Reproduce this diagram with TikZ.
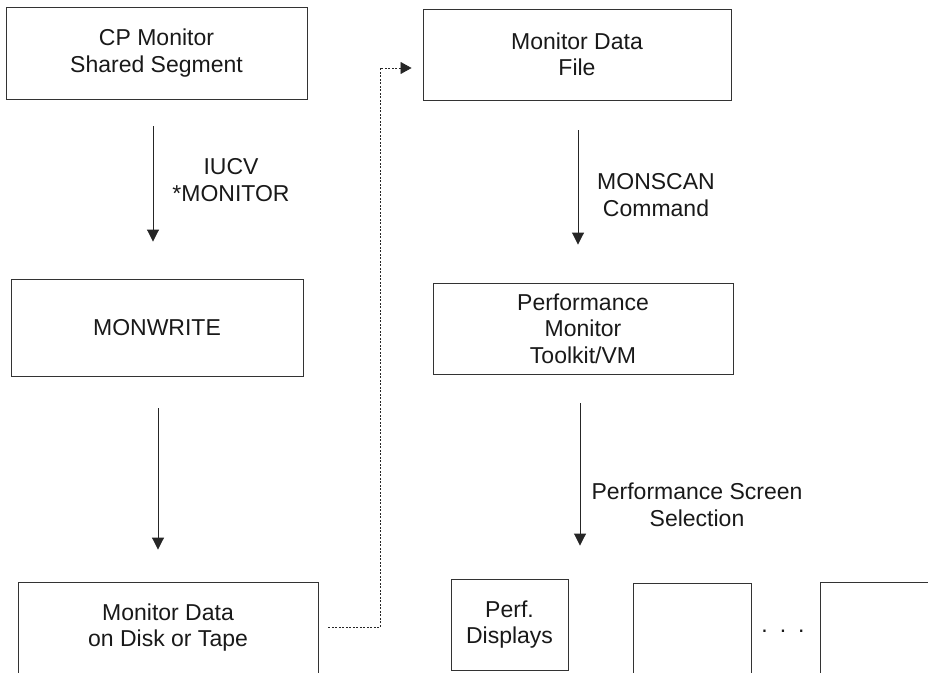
\documentclass[tikz,border=0pt]{standalone}
\usepackage{fontspec}
\setmainfont{Liberation Sans}
\usetikzlibrary{arrows.meta}
\begin{document}
\begin{tikzpicture}[x=1pt,y=-1pt,
  box/.style={draw=black!80, line width=0.9pt, align=center, inner sep=0pt,
    font=\fontsize{23}{26.5}\selectfont, text=black!90},
  lbl/.style={align=center, inner sep=0pt, font=\fontsize{23}{26.5}\selectfont, text=black!90},
  arr/.style={draw=black!85, line width=0.9pt, -{Triangle[length=12pt,width=12pt]}},
  dotarr/.style={draw=black!85, line width=0.7pt, dash pattern=on 2pt off 1.5pt,
    -{Triangle[length=11pt,width=12pt]}}]
\useasboundingbox (0,0) rectangle (928,672);
\clip (0,0) rectangle (928,672);
% boxes
\node[box, minimum width=301pt, minimum height=92pt] (cp) at (156.5,53) {CP Monitor\\Shared Segment};
\node[box, minimum width=308pt, minimum height=91pt] (mdf) at (577,54.5) {Monitor Data\\File};
\node[box, minimum width=292pt, minimum height=97pt] (mw) at (157,327.5) {MONWRITE};
\node[box, minimum width=300pt, minimum height=91pt] (pmt) at (583,328.5) {Performance\\Monitor\\Toolkit/VM};
\node[box, minimum width=300pt, minimum height=91pt] (bl) at (168,627.5) {Monitor Data\\on Disk or Tape};
\node[box, minimum width=117pt, minimum height=91pt] (pd) at (509.5,624.5) {Perf.\\Displays};
\node[box, minimum width=118pt, minimum height=91pt] (b2) at (692,628.5) {};
\node[box, minimum width=118pt, minimum height=91pt] (b3) at (879,627.5) {};
\node[lbl] (dots) at (783,631) {.\hspace{12pt}.\hspace{12pt}.};
% labels
\node[lbl] (l1) at (231,180) {IUCV\\*MONITOR};
\node[lbl] (l2) at (656,195) {MONSCAN\\Command};
\node[lbl] (l3) at (697,505) {Performance Screen\\Selection};
% coordinates
\coordinate (ax1) at (153,0);
\coordinate (ax2) at (158,0);
\coordinate (ax3) at (578,0);
\coordinate (ax4) at (580,0);
\coordinate (xd) at (380,68);
% connectors
\draw[arr, shorten <=27pt, shorten >=37pt] (cp.south -| ax1) -- (mw.north -| ax1);
\draw[arr, shorten <=32pt, shorten >=32pt] (mw.south -| ax2) -- (bl.north -| ax2);
\draw[arr, shorten <=30pt, shorten >=38pt] (mdf.south -| ax3) -- (pmt.north -| ax3);
\draw[arr, shorten <=29pt, shorten >=33pt] (pmt.south -| ax4) -- (pd.north -| ax4);
\draw[dotarr, shorten <=10pt, shorten >=11pt] (bl.east) -| (xd) -- (xd -| mdf.west);
\end{tikzpicture}
\end{document}
